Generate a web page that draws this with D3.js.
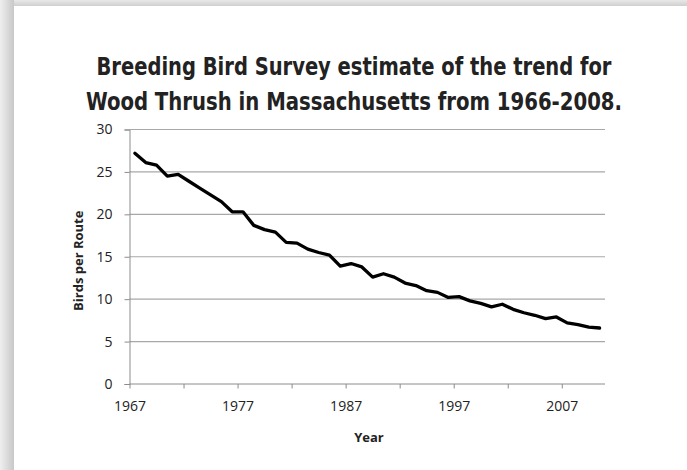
<!DOCTYPE html>
<html>
<head>
<meta charset="utf-8">
<script src="https://cdn.jsdelivr.net/npm/d3@7/dist/d3.min.js"></script>
<style>
  html, body { margin: 0; padding: 0; background: #fff; }
  svg { display: block; }
</style>
</head>
<body>
<div id="chart"></div>
<script>
// categories (one per survey year, drawn as bands)
const years = [1967, 1968, 1969, 1970, 1971, 1972, 1973, 1974, 1975, 1976,
  1977, 1978, 1979, 1980, 1981, 1982, 1983, 1984, 1985, 1986,
  1987, 1988, 1989, 1990, 1991, 1992, 1993, 1994, 1995, 1996,
  1997, 1998, 1999, 2000, 2001, 2002, 2003, 2004, 2005, 2006,
  2007, 2008, 2009, 2010];

// birds per route
const birds = [27.2, 26.1, 25.8, 24.5, 24.7, 23.9, 23.1, 22.3, 21.5, 20.3,
  20.3, 18.7, 18.2, 17.9, 16.7, 16.6, 15.9, 15.5, 15.2, 13.9,
  14.2, 13.8, 12.6, 13.0, 12.6, 11.9, 11.6, 11.0, 10.8, 10.2,
  10.3, 9.8, 9.5, 9.1, 9.4, 8.8, 8.4, 8.1, 7.7, 7.9,
  7.2, 7.0, 6.7, 6.6];

const yTicks = [0, 5, 10, 15, 20, 25, 30];
const xTickIdx = [0, 5, 10, 15, 20, 25, 30, 35, 40];
const xLabels = ["1967", "1977", "1987", "1997", "2007"];

const titleLines = [
  "Breeding Bird Survey estimate of the trend for",
  "Wood Thrush in Massachusetts from 1966-2008."
];

const W = 687, H = 470;
const m = { left: 129.5, right: 605, top: 129.5, bottom: 384 };

const svg = d3.select("#chart").append("svg")
  .attr("width", W)
  .attr("height", H);

// shadow / card background
const defs = svg.append("defs");
const gl = defs.append("linearGradient").attr("id", "shL")
  .attr("x1", 0).attr("x2", 1).attr("y1", 0).attr("y2", 0);
gl.append("stop").attr("offset", 0).attr("stop-color", "#efefef");
gl.append("stop").attr("offset", 1).attr("stop-color", "#c8c8c8");
const gt = defs.append("linearGradient").attr("id", "shT")
  .attr("x1", 0).attr("x2", 0).attr("y1", 0).attr("y2", 1);
gt.append("stop").attr("offset", 0).attr("stop-color", "#e8e8e8");
gt.append("stop").attr("offset", 1).attr("stop-color", "#cfcfcf");

svg.append("rect").attr("width", W).attr("height", H).attr("fill", "#fff");
svg.append("rect").attr("x", 0).attr("y", 0).attr("width", W).attr("height", 6).attr("fill", "url(#shT)");
svg.append("rect").attr("x", 0).attr("y", 0).attr("width", 14).attr("height", H).attr("fill", "url(#shL)");
svg.append("rect").attr("x", 14).attr("y", 6).attr("width", W - 14).attr("height", H - 6).attr("fill", "#fff");

// title
svg.append("g")
  .selectAll("text")
  .data(titleLines)
  .join("text")
  .attr("x", 354)
  .attr("y", (d, i) => 74.5 + i * 35)
  .attr("text-anchor", "middle")
  .attr("textLength", (d, i) => i === 0 ? 515 : 536)
  .attr("lengthAdjust", "spacingAndGlyphs")
  .style("font-family", "'Liberation Sans Narrow', 'DejaVu Sans Condensed', 'Open Sans', sans-serif")
  .style("font-weight", "bold")
  .style("font-size", "24px")
  .style("fill", "#222")
  .text(d => d);

// scales
const x = d3.scaleBand().domain(years).range([m.left, m.right]).paddingInner(0).paddingOuter(0);
const xIdx = d3.scaleLinear().domain([0, years.length]).range([m.left, m.right]);
const y = d3.scaleLinear().domain([0, 30]).range([m.bottom, m.top]);

// gridlines
svg.append("g")
  .selectAll("line")
  .data(yTicks.filter(d => d > 0))
  .join("line")
  .attr("x1", m.left).attr("x2", m.right)
  .attr("y1", d => y(d)).attr("y2", d => y(d))
  .attr("stroke", "#a8a8a8")
  .attr("stroke-width", 1.2);

const tickFont = "'Open Sans', 'Liberation Sans', sans-serif";

// y axis
const yAxis = svg.append("g")
  .attr("transform", `translate(${m.left},0)`)
  .call(d3.axisLeft(y).tickValues(yTicks).tickSize(5).tickPadding(12).tickFormat(d3.format("d")));
yAxis.select(".domain").attr("stroke", "#8c8c8c");
yAxis.selectAll(".tick line").attr("stroke", "#8c8c8c");
yAxis.selectAll("text")
  .style("font-family", tickFont).style("font-size", "14px").style("fill", "#222");

// x axis
const xAxis = svg.append("g")
  .attr("transform", `translate(0,${m.bottom})`)
  .call(d3.axisBottom(xIdx).tickValues(xTickIdx).tickSize(4.5).tickPadding(13)
    .tickFormat(d => d % 10 === 0 ? xLabels[d / 10] : ""));
xAxis.select(".domain").attr("stroke", "#8c8c8c").attr("d", `M${m.left},0H${m.right}`);
xAxis.selectAll(".tick line").attr("stroke", "#8c8c8c");
xAxis.selectAll("text")
  .style("font-family", tickFont).style("font-size", "14px").style("fill", "#222");

// axis titles
svg.append("text")
  .attr("x", 369)
  .attr("y", 442)
  .attr("text-anchor", "middle")
  .style("font-family", tickFont)
  .style("font-weight", "bold")
  .style("font-size", "13px")
  .style("fill", "#222")
  .text("Year");

svg.append("text")
  .attr("transform", `translate(82.5,${(m.top + m.bottom) / 2 + 4}) rotate(-90)`)
  .attr("text-anchor", "middle")
  .style("font-family", tickFont)
  .style("font-weight", "bold")
  .style("font-size", "13px")
  .style("fill", "#222")
  .text("Birds per Route");

// trend line
const line = d3.line()
  .x((d, i) => x(years[i]) + x.bandwidth() / 2)
  .y(d => y(d));

svg.append("path")
  .datum(birds)
  .attr("d", line)
  .attr("fill", "none")
  .attr("stroke", "#000")
  .attr("stroke-width", 3.3)
  .attr("stroke-linejoin", "round")
  .attr("stroke-linecap", "round");
</script>
</body>
</html>
